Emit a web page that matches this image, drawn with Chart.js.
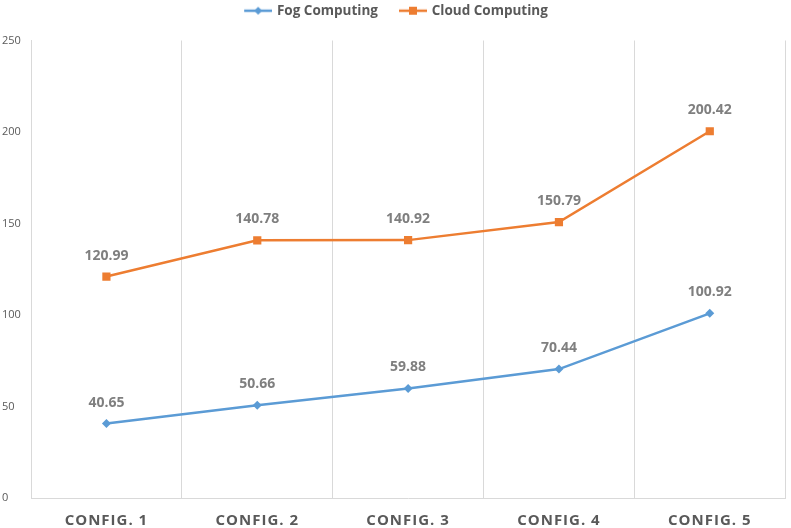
<!DOCTYPE html>
<html>
<head>
<meta charset="utf-8">
<script src="https://cdn.jsdelivr.net/npm/chart.js@4.4.1/dist/chart.umd.min.js"></script>
<style>
  body { margin: 0; background: #fff; }
</style>
</head>
<body>
<canvas id="lineChart" width="791" height="528"></canvas>
<script>
// chart data
var configs = ["CONFIG. 1", "CONFIG. 2", "CONFIG. 3", "CONFIG. 4", "CONFIG. 5"];
var fogData = [40.65, 50.66, 59.88, 70.44, 100.92];
var cloudData = [120.99, 140.78, 140.92, 150.79, 200.42];
var yTicks = [0, 50, 100, 150, 200, 250];

var blue = "#5B9BD5";
var orange = "#ED7D31";
var textGray = "#595959";

// legend marker canvas (blank gap on the left, then line + point)
function legendIcon(color, shape) {
  var c = document.createElement("canvas");
  c.width = 48; c.height = 12;
  var g = c.getContext("2d");
  g.strokeStyle = color;
  g.lineWidth = 2.5;
  g.beginPath(); g.moveTo(20, 6); g.lineTo(48, 6); g.stroke();
  g.fillStyle = color;
  g.beginPath();
  if (shape == "diamond") {
    g.moveTo(34, 2); g.lineTo(38, 6); g.lineTo(34, 10); g.lineTo(30, 6);
  } else {
    g.rect(30, 2, 8, 8);
  }
  g.fill();
  return c;
}
var icons = [legendIcon(blue, "diamond"), legendIcon(orange, "square")];

// extra room under the legend + small left shift
var legendTweak = {
  id: "legendTweak",
  afterInit: function(chart) {
    var lg = chart.legend;
    var origFit = lg.fit;
    lg.fit = function() {
      origFit.call(this);
      this.height += 13;
    };
  },
  afterLayout: function(chart) {
    chart.legend.left -= 9;
    chart.legend.right -= 9;
  }
};

// draws the value above each point, letter spacing for x labels afterwards
var valueLabels = {
  id: "valueLabels",
  afterDatasetsDraw: function(chart) {
    var ctx = chart.ctx;
    ctx.save();
    ctx.font = "bold 14px 'Open Sans'";
    ctx.fillStyle = "#7F7F7F";
    ctx.textAlign = "center";
    ctx.textBaseline = "middle";
    chart.data.datasets.forEach(function(ds, i) {
      var meta = chart.getDatasetMeta(i);
      meta.data.forEach(function(pt, j) {
        ctx.fillText(ds.data[j].toFixed(2), pt.x, pt.y - 21);
      });
    });
    ctx.restore();
    ctx.letterSpacing = "1px";
  },
  afterDraw: function(chart) {
    chart.ctx.letterSpacing = "0px";
  }
};

var ctx = document.getElementById("lineChart");
var chart = new Chart(ctx, {
  type: "line",
  data: {
    labels: configs,
    datasets: [{
      label: "Fog Computing",
      data: fogData,
      borderColor: blue,
      backgroundColor: blue,
      borderWidth: 2.5,
      pointStyle: "rectRot",
      pointRadius: 4.5,
      pointBorderWidth: 0,
      tension: 0
    }, {
      label: "Cloud Computing",
      data: cloudData,
      borderColor: orange,
      backgroundColor: orange,
      borderWidth: 2.5,
      pointStyle: "rect",
      pointRadius: 5.8,
      pointBorderWidth: 0,
      tension: 0
    }]
  },
  options: {
    responsive: false,
    animation: false,
    layout: { padding: { left: 2, right: 1, top: 1, bottom: 0 } },
    plugins: {
      tooltip: { enabled: false },
      legend: {
        position: "top",
        labels: {
          usePointStyle: true,
          pointStyleWidth: 44,
          padding: 3,
          color: textGray,
          font: { family: "'Open Sans'", size: 13.5, weight: "bold" },
          generateLabels: function(chart) {
            var items = Chart.defaults.plugins.legend.labels.generateLabels(chart);
            items.forEach(function(it, i) { it.pointStyle = icons[i]; });
            return items;
          }
        }
      }
    },
    scales: {
      x: {
        offset: true,
        grid: { display: true, offset: true, color: "#D9D9D9", drawTicks: false },
        border: { color: "#D9D9D9" },
        ticks: {
          z: 1,
          padding: 14,
          color: textGray,
          font: { family: "'Open Sans'", size: 15, weight: "bold" }
        },
        afterFit: function(scale) { scale.height = 30; }
      },
      y: {
        min: 0,
        max: 250,
        afterBuildTicks: function(scale) {
          scale.ticks = yTicks.map(function(v) { return { value: v }; });
        },
        grid: { display: false },
        border: { color: "#D9D9D9" },
        ticks: {
          crossAlign: "far",
          color: textGray,
          font: { family: "'Open Sans'", size: 11 }
        },
        afterFit: function(scale) { scale.width = 29; }
      }
    }
  },
  plugins: [legendTweak, valueLabels]
});
</script>
</body>
</html>
